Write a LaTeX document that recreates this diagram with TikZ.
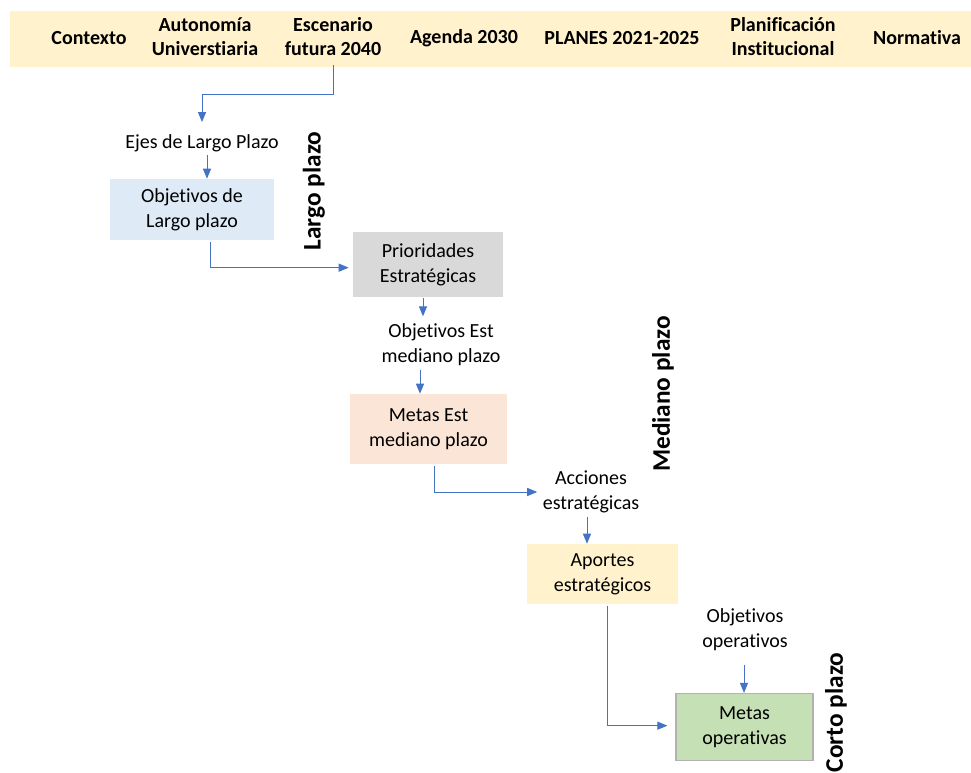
\documentclass[tikz,border=0pt]{standalone}
\usepackage{fontspec}
\setmainfont{Carlito}[Ligatures=NoCommon]
\usepackage{tikz}
\usetikzlibrary{arrows.meta,calc,positioning}

\definecolor{azul}{HTML}{4472C4}
\definecolor{crema}{HTML}{FFF2CC}
\definecolor{celeste}{HTML}{DEEBF7}
\definecolor{gris}{HTML}{D9D9D9}
\definecolor{salmon}{HTML}{FBE5D6}
\definecolor{verde}{HTML}{C5E0B4}

\begin{document}
\begin{tikzpicture}[x=0.75pt,y=-0.75pt,
                                font=\fontsize{15}{18.75}\selectfont,
                                caja/.style={align=center,inner sep=2pt},
                                etiqueta/.style={align=center,inner sep=1pt},
                                cabecera/.style={align=center,font=\fontsize{15}{18}\selectfont\bfseries,minimum height=42pt,inner sep=0pt},
                                plazo/.style={rotate=90,font=\fontsize{19}{22}\selectfont\bfseries,inner sep=0pt},
                                flecha/.style={draw=azul,line width=0.75pt,-{Triangle[length=7.5pt,width=6pt]}}]
                                \useasboundingbox (0,0) rectangle (971,773);
                                \fill[crema] (10,11) rectangle (971,67);
                                % cabecera
                                \node[cabecera] (ctx) at (89,38) {Contexto};
                                \node[cabecera] (aut) at (205,37) {Autonomía\\Universtiaria};
                                \node[cabecera] (esc) at (333,37) {Escenario\\futura 2040};
                                \node[cabecera] (age) at (464,38) {Agenda 2030};
                                \node[cabecera] (pla) at (622,38) {PLANES 2021-2025};
                                \node[cabecera] (pin) at (783,37) {Planificación\\Institucional};
                                \node[cabecera] (nor) at (917,38) {Normativa};
                                % largo plazo
                                \node[etiqueta] (ejes) at (202,143) {Ejes de Largo Plazo};
                                \node[caja,fill=celeste,minimum width=123pt,minimum height=45.75pt] (objlp) at (192,209.5) {Objetivos de\\Largo plazo};
                                \node[caja,fill=gris,minimum width=112.5pt,minimum height=48.75pt] (prio) at (428,265) {Prioridades\\Estratégicas};
                                \node[plazo] (largo) at (314,191) {Largo plazo};
                                % mediano plazo
                                \node[etiqueta] (objmp) at (441,345) {Objetivos Est\\mediano plazo};
                                \node[caja,fill=salmon,minimum width=117.75pt,minimum height=52.5pt] (metas) at (428.5,429) {Metas Est\\mediano plazo};
                                \node[etiqueta] (acc) at (591,492) {Acciones\\estratégicas};
                                \node[caja,fill=crema,minimum width=113.25pt,minimum height=45pt] (aportes) at (602.5,574) {Aportes\\estratégicos};
                                \node[plazo] (mediano) at (663,394) {Mediano plazo};
                                % corto plazo
                                \node[etiqueta] (objop) at (745,630) {Objetivos\\operativos};
                                \node[caja,fill=verde,draw=black!30,line width=0.9pt,minimum width=102.75pt,minimum height=50.25pt] (metop) at (744.5,727) {Metas\\operativas};
                                \node[plazo] (corto) at (836,712.5) {Corto plazo};
                                % conectores
                                \coordinate (e1) at ($(ejes.south)+(5,2)$);
                                \coordinate (p1) at ($(prio.south)+(-5,0)$);
                                \coordinate (o1) at ($(objmp.south)+(-21,2)$);
                                \coordinate (a1) at ($(acc.south)+(-4,2)$);
                                \coordinate (q1) at ($(objop.south)+(-1,12)$);
                                \draw[flecha] (esc.south) -- ++(0,29) -| ([yshift=8pt]ejes.north);
                                \draw[flecha] (e1) -- (e1 |- objlp.north);
                                \draw[flecha] ($(objlp.south)+(18,2)$) |- ([xshift=-3pt,yshift=-2pt]prio.west);
                                \draw[flecha] (p1) -- ($(p1 |- objmp.north)+(0,-6)$);
                                \draw[flecha] (o1) -- (o1 |- metas.north);
                                \draw[flecha] ($(metas.south)+(6,2)$) |- ([xshift=-3pt]acc.west);
                                \draw[flecha] (a1) -- (a1 |- aportes.north);
                                \draw[flecha] ($(aportes.south)+(5,2)$) |- ([xshift=-6pt,yshift=1pt]metop.west);
                                \draw[flecha] (q1) -- (q1 |- metop.north);
                            \end{tikzpicture}
\end{document}
